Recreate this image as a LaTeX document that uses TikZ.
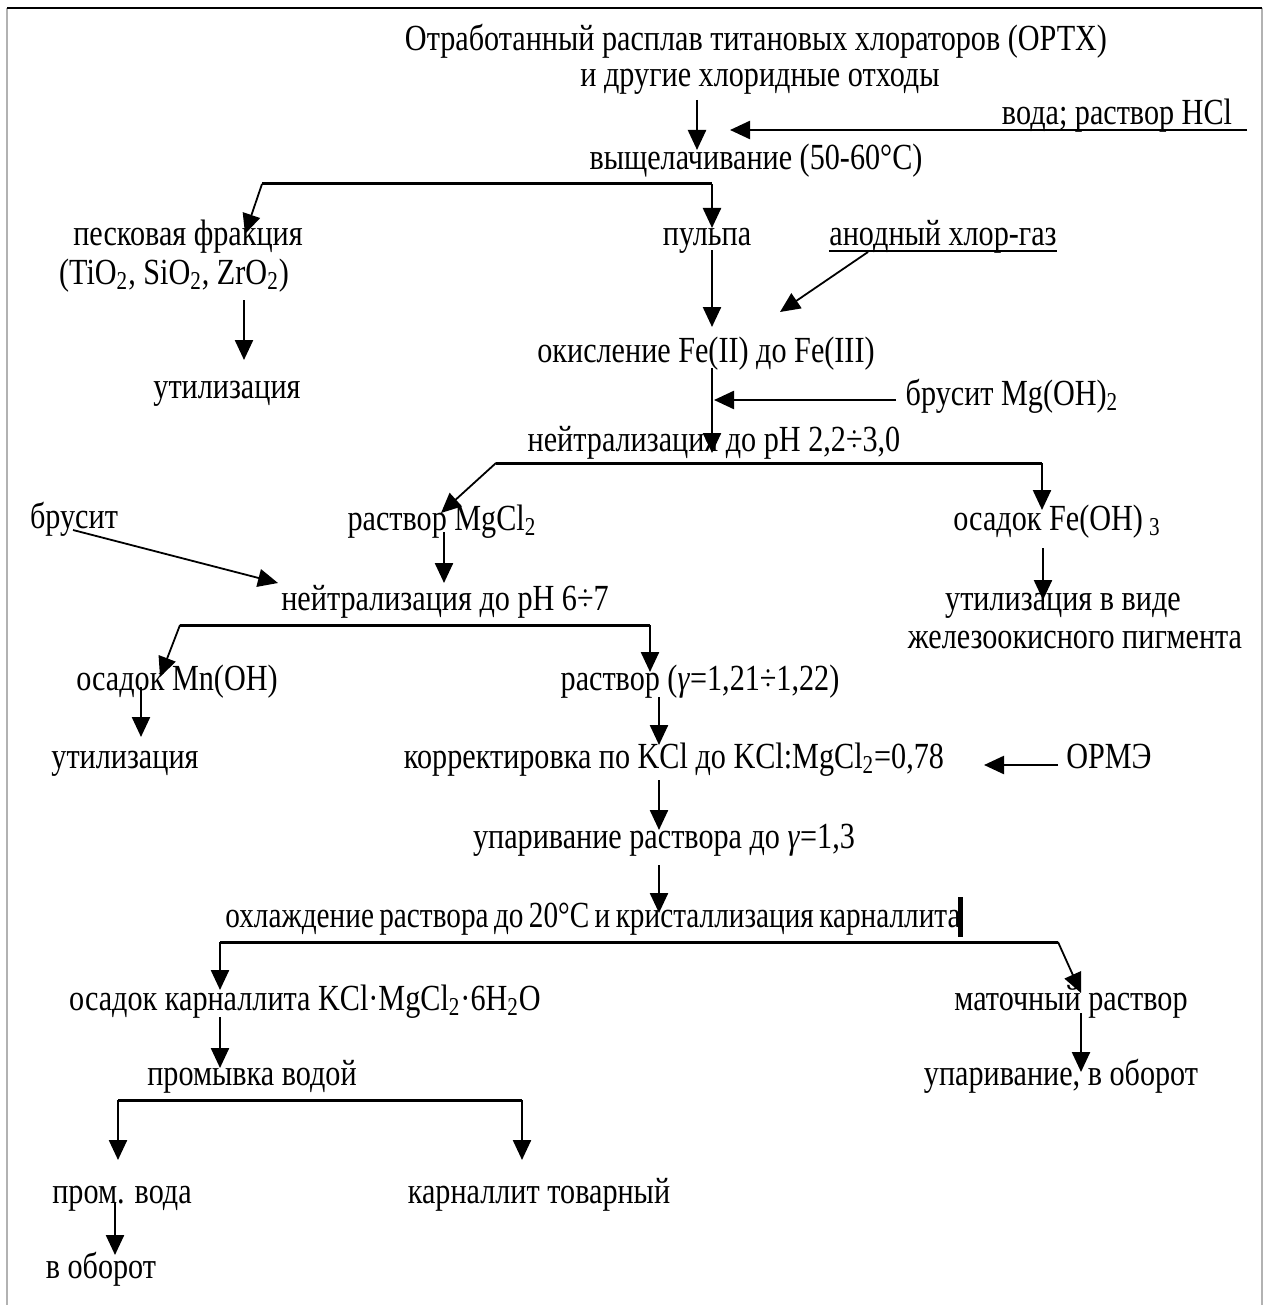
\documentclass[tikz,border=0pt]{standalone}
\usepackage{fontspec}
\setmainfont[FakeStretch=0.82]{Liberation Serif}
\usetikzlibrary{arrows.meta}

\begin{document}
\begin{tikzpicture}[x=0.5pt,y=-0.5pt,
    txt/.style={anchor=base,inner sep=0pt,font=\fontsize{18.4}{21}\selectfont},
    arr/.style={line width=1.2pt,-{Triangle[length=10pt,width=9pt]}},
    slant/.style={line width=0.9pt,-{Triangle[length=10pt,width=9pt]}},
    ln/.style={line width=1.5pt}]
  \useasboundingbox (0,0) rectangle (1269,1305);
  \draw[gray!60,line width=0.8pt] (7,1305) -- (7,8) (1262,8) -- (1262,1305);
  \draw[black,line width=0.8pt] (7,8) -- (1262,8);

  % text blocks
  \node[txt] (src1) at (756,51) {Отработанный расплав титановых хлораторов (ОРТХ)};
  \node[txt] (src2) at (760,87) {и другие хлоридные отходы};
  \node[txt] (water) at (1117,125) {вода; раствор HCl};
  \node[txt] (leach) at (756,170) {выщелачивание (50-60°C)};
  \node[txt] (sand) at (188,246) {песковая фракция};
  \node[txt] (sandox) at (174,284) {(TiO\textsubscript{2}, SiO\textsubscript{2}, ZrO\textsubscript{2})};
  \node[txt] (util1) at (227,398) {утилизация};
  \node[txt] (pulp) at (707,246) {пульпа};
  \node[txt] (chlor) at (943,246) {анодный хлор-газ};
  \draw[line width=1.2pt] ([yshift=-2.5pt]chlor.base west) -- ([yshift=-2.5pt]chlor.base east);
  \node[txt] (oxid) at (706,362) {окисление Fe(II) до Fe(III)};
  \node[txt] (bruc1) at (1012,405) {брусит Mg(OH)\textsubscript{2}};
  \node[txt] (neut1) at (714,451) {нейтрализация до pH 2,2÷3,0};
  \node[txt] (mgcl) at (442,530) {раствор MgCl\textsubscript{2}};
  \node[txt] (feoh) at (1057,530) {осадок Fe(OH)\,\textsubscript{3}};
  \node[txt] (bruc2) at (74,528) {брусит};
  \node[txt] (neut2) at (445,610) {нейтрализация до pH 6÷7};
  \node[txt] (pigm1) at (1063,610) {утилизация в виде};
  \node[txt] (pigm2) at (1075,648) {железоокисного пигмента};
  \node[txt] (mnoh) at (177,690) {осадок Mn(OH)};
  \node[txt] (sol) at (700,690) {раствор (\textit{γ}=1,21÷1,22)};
  \node[txt] (util2) at (125,768) {утилизация};
  \node[txt] (corr) at (674,768) {корректировка по KCl до KCl:MgCl\textsubscript{2}=0,78};
  \node[txt] (ormz) at (1109,768) {ОРМЭ};
  \node[txt] (evap) at (664,848) {упаривание раствора до \textit{γ}=1,3};
  \node[txt] (cool) at (593,927) {\scalebox{0.97}[1]{\spaceskip=0.15em охлаждение раствора до 20°C и кристаллизация карналлита}};
  \node[txt] (carn) at (305,1010) {осадок карналлита KCl·MgCl\textsubscript{2}·6H\textsubscript{2}O};
  \node[txt] (mother) at (1071,1010) {маточный раствор};
  \node[txt] (wash) at (252,1085) {промывка водой};
  \node[txt] (recyc2) at (1061,1085) {упаривание, в оборот};
  \node[txt] (wwater) at (122,1203) {пром. вода};
  \node[txt] (prod) at (539,1203) {карналлит товарный};
  \node[txt] (recyc1) at (101,1278) {в оборот};

  % connector points
  \foreach \n/\x/\y in {p1/697/100, p2/697/150, w1/1247/130, w2/730/130,
      b1l/262/184, b1r/712/184, b1a/245/234, b1b/712/228,
      p3/712/250, p4/712/327, c1/868/252, c2/780/312, s1/244/300, s2/244/360,
      p5/712/368, p6/712/453, m1/896/400, m2/714/400,
      b2l/496/463, b2r/1042/463, b2a/441/513, b2b/1042/510,
      p7/444/532, p8/444/583, r1/73/530, r2/278/583,
      b3l/180/625, b3r/650/625, b3a/160/677, b3b/650/672,
      p9/141/687, p10/141/737, f1/1043/548, f2/1043/600,
      p11/659/697, p12/659/745, o1/1058/765, o2/984/765,
      p13/659/780, p14/659/830, p15/659/865, p16/659/913,
      k1/960/897, k2/960/937,
      b4l/220/942, b4r/1058/942, b4a/220/990, b4b/1081/993,
      p17/220/1017, p18/220/1068,
      b5l/118/1100, b5r/522/1100, b5a/118/1160, b5b/522/1160,
      p19/115/1203, p20/115/1255, p21/1081/1013, p22/1081/1072}
    \coordinate (\n) at (\x,\y);

  % arrows
  \draw[arr] (p1) -- (p2);
  \draw[arr] (w1) -- (w2);
  \draw[ln] (b1l) -- (b1r);
  \draw[slant] (b1l) -- (b1a);
  \draw[arr] (b1r) -- (b1b);
  \draw[arr] (p3) -- (p4);
  \draw[slant] (c1) -- (c2);
  \draw[arr] (s1) -- (s2);
  \draw[arr] (p5) -- (p6);
  \draw[arr] (m1) -- (m2);
  \draw[ln] (b2l) -- (b2r);
  \draw[slant] (b2l) -- (b2a);
  \draw[arr] (b2r) -- (b2b);
  \draw[arr] (p7) -- (p8);
  \draw[slant] (r1) -- (r2);
  \draw[ln] (b3l) -- (b3r);
  \draw[slant] (b3l) -- (b3a);
  \draw[arr] (b3r) -- (b3b);
  \draw[arr] (p9) -- (p10);
  \draw[arr] (f1) -- (f2);
  \draw[arr] (p11) -- (p12);
  \draw[arr] (o1) -- (o2);
  \draw[arr] (p13) -- (p14);
  \draw[arr] (p15) -- (p16);
  \draw[line width=2.5pt] (k1) -- (k2);
  \draw[ln] (b4l) -- (b4r);
  \draw[arr] (b4l) -- (b4a);
  \draw[slant] (b4r) -- (b4b);
  \draw[arr] (p17) -- (p18);
  \draw[ln] (b5l) -- (b5r);
  \draw[arr] (b5l) -- (b5a);
  \draw[arr] (b5r) -- (b5b);
  \draw[arr] (p19) -- (p20);
  \draw[arr] (p21) -- (p22);
\end{tikzpicture}
\end{document}
